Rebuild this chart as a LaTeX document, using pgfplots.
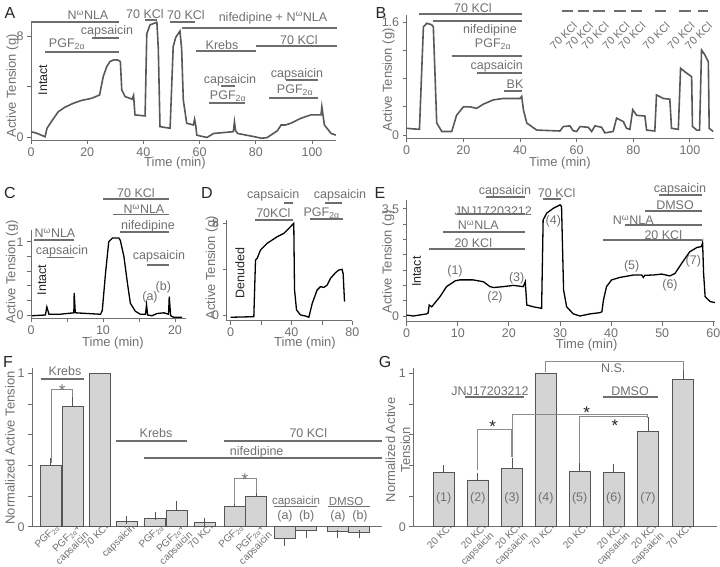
\documentclass[border=0pt]{standalone}
\usepackage{pgfplots}
\pgfplotsset{compat=1.18}
\usepackage{fontspec}
\setmainfont{Liberation Sans}
\definecolor{tg}{RGB}{112,112,112}
\definecolor{lg}{RGB}{110,110,110}
\definecolor{tr}{RGB}{88,88,88}
\definecolor{barf}{RGB}{212,212,212}
\definecolor{bard}{RGB}{85,85,85}
\newcommand{\fs}{\fontsize{12.5}{14}\selectfont}
\newcommand{\fss}{\fontsize{11.5}{12.5}\selectfont}
\newcommand{\NNLA}{N\textsuperscript{ω}NLA}
\newcommand{\PGF}{PGF\textsubscript{2α}}
\newcommand{\dbar}[3]{\draw[lg, line width=1.8pt] (#1,#3) -- (#2,#3);}
\pgfplotsset{
  base/.style={scale only axis, anchor=south west, axis lines=left,
    axis line style={-, draw=lg, line width=0.9pt},
    tick style={draw=lg, line width=0.9pt},
    major tick length=4pt, minor tick length=4pt, tick align=outside,
    tick label style={font=\fs, text=tg},
    /pgf/number format/assume math mode=true},
  trace/.style={base},
  bars/.style={base, clip=false, major x tick style=transparent,
    ytick={0,1}, minor ytick={0.2,0.4,0.6,0.8}, ymin=0, ymax=1.033,
    xticklabel style={rotate=45, anchor=north east, align=right, font=\fontsize{10}{11}\selectfont, inner sep=0pt, xshift=8pt, yshift=3pt}},
  bst/.style={ybar, bar width=21, bar shift=0pt, fill=barf, draw=bard, line width=0.8pt},
  ebp/.style={error bars/.cd, y dir=plus, y explicit, error bar style={draw=bard, line width=0.8pt},
    error mark=-, error mark options={mark size=4pt, line width=0.8pt, draw=bard}},
  ebm/.style={error bars/.cd, y dir=minus, y explicit, error bar style={draw=bard, line width=0.8pt},
    error mark=-, error mark options={mark size=4pt, line width=0.8pt, draw=bard}},
}
\begin{document}
\begin{tikzpicture}
\path[use as bounding box] (0pt,0pt) rectangle (720pt,-567pt);

% ---------------- A
\begin{axis}[trace, at={(31pt,-140pt)}, width=304.9pt, height=119pt,
  xmin=0, xmax=108.5, ymin=-0.24, ymax=9.2,
  xtick={0,20,...,100}, ytick={0,8}, minor ytick={4}]
\addplot[tr, line width=1.6pt] coordinates {
(0,0.42)(2,0.3)(5,0.02)(5.7,0.69)(7.5,1.3)(9.7,2.0)(12,2.35)(15,2.67)(18,2.9)(21.6,3.07)(24.4,3.33)(25.7,4.79)(27,5.6)(28.1,5.98)(29.5,6.12)(31,6.1)(31.8,5.98)(32.3,3.73)(33.5,3.2)(36,3.0)(36.5,3.3)(37,1.75)(40.6,1.67)(41.2,8.2)(42.4,8.9)(44.8,9.1)(45.3,7.0)(45.9,0.82)(49.5,0.69)(50.6,7.17)(51.5,7.9)(53,8.4)(53.6,7.0)(54.2,2.94)(55.4,1.09)(57.8,0.95)(58.2,1.4)(58.6,0.95)(59,0.14)(62.6,-0.04)(65,0.28)(72,0.42)(72.4,1.2)(72.8,0.5)(73.5,0.28)(79.5,0.02)(82,-0.1)(84,-0.05)(87.7,0.5)(89,0.95)(90.5,0.95)(92.5,1.09)(96,1.48)(99.6,1.75)(103.2,1.75)(103.5,2.4)(104.4,0.95)(106.8,0.28)(108.5,0.15)};
\end{axis}

% ---------------- B
\begin{axis}[trace, at={(406.7pt,-138.3pt)}, width=307.3pt, height=123.3pt,
  xmin=0, xmax=108.5, ymin=-0.047, ymax=1.708,
  xtick={0,20,...,100}, ytick={0,1.6}, minor ytick={0.4,0.8,1.2}]
\addplot[tr, line width=1.6pt] coordinates {
(0,0.095)(4.5,0.08)(5.9,1.54)(7.1,1.59)(8.8,1.57)(9.4,1.54)(10.6,0.17)(12.4,0.05)(15.9,0.05)(17.6,0.28)(20,0.40)(22.4,0.40)(24.7,0.38)(27.1,0.44)(30.6,0.50)(34.1,0.52)(40,0.52)(40.6,0.55)(41.2,0.36)(42.4,0.17)(45.9,0.07)(54.1,0.057)(55.3,0.12)(57.6,0.13)(58.8,0.06)(60,0.05)(61.2,0.12)(64.1,0.11)(65.3,0.05)(66.5,0.13)(68.8,0.11)(70,0.03)(72.9,0.05)(74.1,0.24)(76.5,0.19)(77.6,0.095)(78.8,0.08)(79.8,0.36)(81.2,0.28)(84.1,0.27)(84.7,0.07)(87.6,0.057)(88.2,0.57)(90.6,0.52)(92.9,0.51)(93.5,0.095)(95.9,0.08)(96.7,0.95)(98.2,0.90)(100.6,0.83)(100.9,0.12)(102.4,0.07)(103.4,0.07)(104.1,1.21)(105.3,1.14)(106.5,1.04)(106.8,0.095)(108.2,0.05)};
\end{axis}

% ---------------- C
\begin{axis}[trace, at={(31pt,-318pt)}, width=154.8pt, height=88pt,
  xmin=0, xmax=21.5, ymin=-0.041, ymax=1.16,
  xtick={0,10,20}, minor xtick={5,15}, ytick={0,1}, minor ytick={0.2,0.4,0.6,0.8}]
\addplot[black, line width=1.3pt] coordinates {
(0.16,-0.01)(2,0)(2.2,0.11)(2.5,0.01)(4,0.01)(5.95,0.03)(6.0,0.3)(6.15,0.03)(9.65,0.01)(9.9,0.06)(10.35,0.57)(10.8,1.0)(11.3,1.05)(12.2,1.05)(12.4,1.02)(12.9,0.8)(13.4,0.43)(13.8,0.16)(14.5,0.05)(15.2,0.01)(15.9,0.01)(16.05,0.14)(16.2,0)(16.8,-0.01)(17.5,0.02)(18.45,0.03)(19.1,0.01)(19.2,0.25)(19.4,-0.01)(19.8,-0.03)(21,-0.03)};
\end{axis}

% ---------------- D
\begin{axis}[trace, at={(226.7pt,-320.7pt)}, width=125.75pt, height=100.7pt,
  xmin=-2.5, xmax=80, ymin=-0.5, ymax=8.29,
  xtick={0,40,80}, minor xtick={20,60}, ytick={0,8}, minor ytick={4}]
\addplot[black, line width=1.3pt] coordinates {
(0,-0.2)(15.3,-0.15)(16.4,4.8)(17.5,4.94)(19.7,5.67)(24,6.25)(30.6,6.83)(35,7.12)(38.3,7.56)(41.5,8.0)(42,2.2)(43.3,0.44)(45.9,0)(49.2,-0.09)(51.4,-0.2)(53.6,1.0)(56.8,2.18)(59,2.47)(61.2,2.41)(63.4,2.6)(65.6,3.2)(68.9,3.69)(71,3.92)(73.2,3.98)(73.9,3.6)(74.8,1.16)};
\end{axis}

% ---------------- E
\begin{axis}[trace, at={(406.7pt,-321.7pt)}, width=308.3pt, height=121.7pt,
  xmin=0, xmax=60.33, ymin=-0.186, ymax=3.79,
  xtick={0,10,...,60}, ytick={0,3.5}, minor ytick={0.5,1,...,3}]
\addplot[black, line width=1.3pt] coordinates {
(0,0.03)(1.3,0)(3.9,0.07)(4.2,0.1)(4.4,0.36)(4.9,0.3)(6.5,0.63)(7.8,0.96)(9.5,1.15)(10.4,1.18)(13,1.18)(15,1.12)(16.3,0.96)(17,0.93)(18.9,0.96)(20.9,1.0)(22.8,0.96)(23.2,1.12)(23.5,0.36)(24.8,0.3)(26.4,0.25)(26.7,3.14)(27.4,3.36)(28.7,3.52)(30,3.63)(30.3,3.58)(30.7,0.85)(31.3,0.3)(32.6,0.07)(33.9,0)(35.9,0.07)(37.8,0.11)(38.2,0.14)(38.5,0.52)(39.1,0.96)(40.1,1.18)(41.7,1.26)(44.4,1.34)(46,1.34)(46.3,1.26)(46.6,1.33)(48.3,1.34)(49.9,1.37)(51.5,1.31)(52.5,1.39)(53.8,1.72)(55.4,2.1)(56.8,2.24)(57.7,2.27)(57.9,2.4)(58.1,1.39)(58.4,0.63)(59.4,0.47)(60.3,0.44)};
\end{axis}

% ---------------- F
\begin{axis}[bars, at={(32pt,-526.7pt)}, width=350pt, height=158.4pt,
  xmin=32, xmax=382,
  xtick={50.8,72.8,100,126.7,155,176.7,204.7,234.7,256.2},
  xticklabels={\PGF,{\PGF+\\capsaicin},70 KCl,capsaicin,\PGF,{\PGF+\\capsaicin},70 KCl,\PGF,{\PGF+\\capsaicin}}]
\addplot[bst, ebp] table[x=x, y=y, y error=e] {
x y e
50.8 0.40 0.02
72.8 0.787 0.063
126.7 0.037 0.004
155 0.055 0.015
176.7 0.104 0.037
204.7 0.03 0.003
234.7 0.13 0.022
256.2 0.196 0.024
};
\addplot[bst] coordinates {(100,1.0)};
\addplot[bst, ebm] table[x=x, y=y, y error=e] {
x y e
284.7 -0.074 0.024
306.2 -0.026 0.024
337.8 -0.028 0.017
359.2 -0.035 0.015
};
\end{axis}

% ---------------- G
\begin{axis}[bars, at={(413.3pt,-526.7pt)}, width=303.4pt, height=158.4pt,
  xmin=413.3, xmax=716.7,
  xtick={443.7,477.8,512,545.8,579.7,613.8,648,683},
  xticklabels={20 KCl,{20 KCl\\capsaicin},{20 KCl\\capsaicin},70 KCl,20 KCl,{20 KCl\\capsaicin},{20 KCl\\capsaicin},70 KCl}]
\addplot[bst, ebp] table[x=x, y=y, y error=e] {
x y e
443.7 0.352 0.022
477.8 0.305 0.021
512 0.381 0.039
579.7 0.363 0.027
613.8 0.355 0.030
648 0.62 0.069
683 0.963 0.052
};
\addplot[bst] coordinates {(545.8,1.0)};
\end{axis}

% ---------------- annotations
\begin{scope}[x=1pt, y=-1pt, every node/.style={text=tg, font=\fs, inner sep=0pt}]
% panel letters
\foreach \l/\xx/\yy in {A/10/13, B/381/13, C/10/193, D/207/193, E/380/193, F/8/362, G/385/362}
  \node[text=black!85, font=\fontsize{16}{18}\selectfont] at (\xx,\yy) {\l};
% axis labels
\foreach \xx/\yy in {12.5/86, 388.5/80, 12/272, 211.7/268, 388.3/262}
  \node[rotate=90, font=\fontsize{13}{15}\selectfont] at (\xx,\yy) {Active Tension (g)};
\foreach \xx/\yy in {175/163, 560/163.3, 113/343.3, 305/343.3, 586.7/345}
  \node[font=\fontsize{13}{15}\selectfont] at (\xx,\yy) {Time (min)};
\node[rotate=90, font=\fontsize{13}{15}\selectfont] at (10,448) {Normalized Active Tension};
\node[rotate=90, align=center, font=\fontsize{13}{15}\selectfont] at (398,450) {Normalized Active\\Tension};

% A
\node at (88,15) {\NNLA}; \dbar{31}{119}{22.3}
\node at (107,31) {capsaicin}; \dbar{92}{119}{38.3}
\node at (67,44) {\PGF}; \dbar{45}{119}{52.3}
\node at (145,14) {70 KCl}; \dbar{145}{157}{19.7}
\node at (186,15) {70 KCl}; \dbar{170}{195}{22}
\node at (273,18) {nifedipine + \NNLA}; \dbar{182}{337}{27.7}
\node at (222,45) {Krebs}; \dbar{196}{256}{51}
\node at (299,40) {70 KCl}; \dbar{256}{337}{46}
\node at (230,80) {capsaicin}; \dbar{221}{235}{86}
\node at (228,96) {\PGF}; \dbar{209}{245}{103}
\node at (297,74) {capsaicin}; \dbar{286}{318}{80}
\node at (295,90) {\PGF}; \dbar{269}{318}{98.3}
\node[rotate=90, text=black!85] at (43,80) {Intact};

% B
\node at (473,8) {70 KCl}; \dbar{419.3}{521.7}{14}
\dbar{433.3}{521.7}{21} \node at (490,30) {nifedipine};
\node at (493,44) {\PGF}; \dbar{451.7}{521.7}{55.7}
\node at (496.7,66) {capsaicin}; \dbar{476.7}{521.7}{73.3}
\node at (515,84) {BK}; \dbar{504}{521.7}{90.7}
\foreach \a/\b in {561.7/573.3, 577.7/589.3, 593.3/605, 614/625.7, 630.7/641.7, 655/666, 679.3/690.7, 698.3/708.3}{
  \dbar{\a}{\b}{11}
  \node[rotate=45, anchor=east, font=\fontsize{11}{12}\selectfont] at (\b+2,24) {70 KCl};
}

% C
\node at (136,193) {70 KCl}; \dbar{103}{169}{199.3}
\node at (144,209) {\NNLA}; \dbar{113}{169}{214.5}
\node at (148,226) {nifedipine}; \dbar{120}{169}{232}
\node at (159,256) {capsaicin}; \dbar{147}{169}{265}
\node at (55,233) {\NNLA}; \dbar{34}{74}{240}
\node at (62,251) {capsaicin}; \dbar{47}{74}{257.5}
\node[rotate=90, text=black!85] at (42,280) {Intact};
\node at (150,297.3) {(a)}; \node at (163.3,287.3) {(b)};

% D
\node at (273.3,195) {capsaicin}; \dbar{284.3}{293.3}{203.3}
\node at (273.3,213.3) {70KCl}; \dbar{255}{293.3}{220}
\node at (340,195) {capsaicin}; \dbar{325}{341.7}{203.3}
\node at (321.7,213.3) {\PGF}; \dbar{310}{343.3}{219.3}
\node[rotate=90, text=black!85] at (240,273.3) {Denuded};

% E
\node at (505,191.7) {capsaicin}; \dbar{486}{525}{196.7}
\node at (556.7,192.7) {70 KCl}; \dbar{542.7}{560.7}{199.3}
\node at (493.3,210.7) {JNJ17203212}; \dbar{456.7}{525}{214}
\node at (478.3,225) {\NNLA}; \dbar{443.3}{525}{231.7}
\node at (473.3,243.3) {20 KCl}; \dbar{429}{525}{249}
\node at (680,189.3) {capsaicin}; \dbar{659.3}{701.7}{195}
\node at (675,205) {DMSO}; \dbar{645}{701.7}{211}
\node at (633.3,220) {\NNLA}; \dbar{625}{701.7}{225}
\node at (663.3,235) {20 KCl}; \dbar{603.3}{701.7}{240}
\node[rotate=90, text=black!85] at (416.7,271.7) {Intact};
\foreach \t/\xx/\yy in {1/455/271.7, 2/495/297.3, 3/516.7/278.3, 4/553.3/221.7, 5/631.7/266, 6/670/285, 7/693.3/261.7}
  \node at (\xx,\yy) {(\t)};

% F
\node at (65,370.7) {Krebs}; \dbar{40.7}{84}{379}
\draw[lg!80, line width=0.7pt] (51,463) -- (51,389) -- (72.7,389) -- (72.7,396.7);
\node[anchor=base, font=\fontsize{17}{18}\selectfont] at (62.3,396) {*};
\node at (156,433.3) {Krebs}; \dbar{116}{187.3}{441}
\node at (308.3,433.3) {70 KCl}; \dbar{224}{382}{441}
\node at (256.7,452.3) {nifedipine}; \dbar{144.3}{382}{458.3}
\draw[lg!80, line width=0.7pt] (234.7,504) -- (234.7,478.3) -- (256,478.3) -- (256,492.7);
\node[anchor=base, font=\fontsize{17}{18}\selectfont] at (245,485) {*};
\node[font=\fss] at (296,501.7) {capsaicin}; \draw[lg, line width=1.4pt] (274,506.7) -- (316.7,506.7);
\node at (285,516.7) {(a)}; \node at (306.7,516.7) {(b)};
\node[font=\fss] at (346,501.7) {DMSO}; \draw[lg, line width=1.4pt] (328,506.7) -- (370,506.7);
\node at (338,516.7) {(a)}; \node at (360,516.7) {(b)};

% G
\draw[lg!80, line width=0.7pt] (545.8,371.5) -- (545.8,361) -- (683.3,361) -- (683.3,370);
\node at (613.3,368.3) {N.S.};
\node at (490,390.7) {JNJ17203212}; \dbar{465}{524.3}{397.3}
\node at (630,390.7) {DMSO}; \dbar{603.3}{657.7}{397.3}
\draw[lg!80, line width=0.7pt] (477.3,470) -- (477.3,429.3) -- (511.7,429.3) -- (511.7,456.7);
\draw[lg!80, line width=0.7pt] (512.7,456.7) -- (512.7,414) -- (647.3,414) -- (647.3,418.3);
\draw[lg!80, line width=0.7pt] (579.3,463.3) -- (579.3,416.7) -- (647.3,416.7);
\node[anchor=base, text=black!85, font=\fontsize{17}{18}\selectfont] at (492.7,432) {*};
\node[anchor=base, text=black!85, font=\fontsize{17}{18}\selectfont] at (586.7,418) {*};
\node[anchor=base, text=black!85, font=\fontsize{17}{18}\selectfont] at (615,431.5) {*};
\foreach \t/\xx in {1/443.7, 2/477.8, 3/512, 4/545.8, 5/579.7, 6/613.8, 7/648}
  \node at (\xx,498.3) {(\t)};
\end{scope}
\end{tikzpicture}
\end{document}
